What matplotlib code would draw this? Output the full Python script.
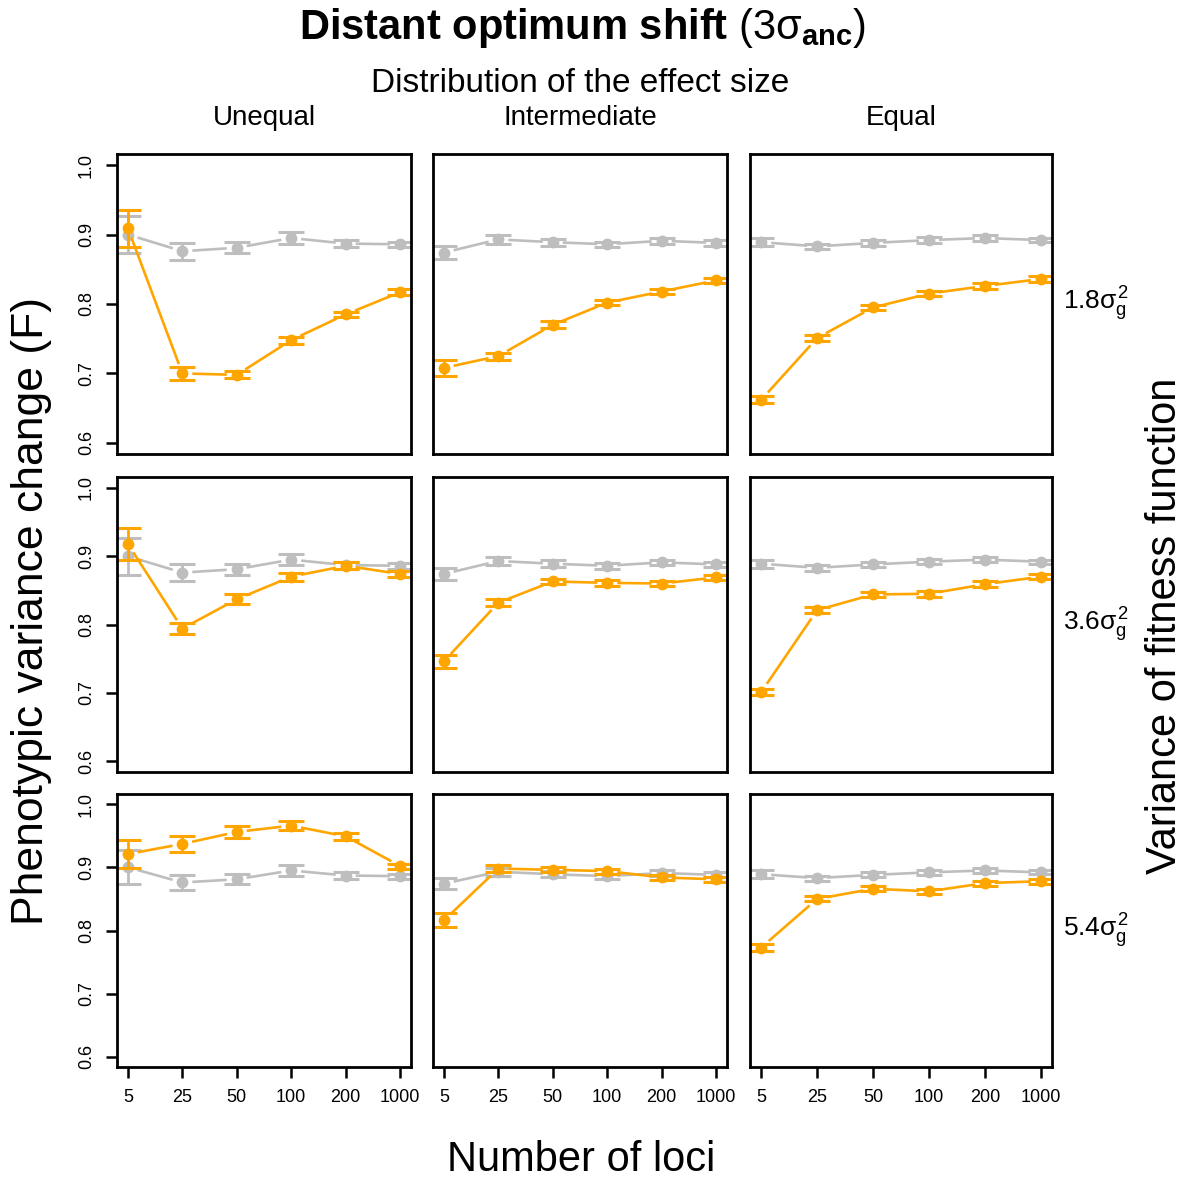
import matplotlib
matplotlib.use("Agg")
import matplotlib.pyplot as plt
import numpy as np

plt.rcParams['font.family'] = ['Liberation Sans', 'DejaVu Sans']
plt.rcParams['mathtext.fontset'] = 'custom'
plt.rcParams['mathtext.rm'] = 'Liberation Sans'
plt.rcParams['mathtext.it'] = 'Liberation Sans'
plt.rcParams['mathtext.bf'] = 'Liberation Sans:bold'

# data
loci = ["5", "25", "50", "100", "200", "1000"]
columns = ["Unequal", "Intermediate", "Equal"]
rows = [r"$1.8\sigma_g^2$", r"$3.6\sigma_g^2$", r"$5.4\sigma_g^2$"]

# grey reference series, one per column (same in every row)
gray_mean = [
    [0.900, 0.876, 0.881, 0.895, 0.887, 0.886],
    [0.874, 0.893, 0.889, 0.886, 0.891, 0.888],
    [0.889, 0.883, 0.888, 0.892, 0.895, 0.892],
]
gray_err = [
    [0.027, 0.012, 0.008, 0.008, 0.005, 0.004],
    [0.009, 0.006, 0.005, 0.004, 0.004, 0.004],
    [0.006, 0.004, 0.004, 0.004, 0.004, 0.003],
]

# orange series, [row][column]
orange_mean = [
    [[0.909, 0.700, 0.698, 0.748, 0.785, 0.817],
     [0.708, 0.725, 0.770, 0.802, 0.818, 0.834],
     [0.662, 0.751, 0.795, 0.815, 0.826, 0.836]],
    [[0.918, 0.794, 0.837, 0.870, 0.886, 0.874],
     [0.746, 0.832, 0.863, 0.861, 0.860, 0.869],
     [0.701, 0.821, 0.844, 0.845, 0.859, 0.870]],
    [[0.921, 0.937, 0.956, 0.966, 0.949, 0.902],
     [0.816, 0.898, 0.896, 0.894, 0.884, 0.881],
     [0.773, 0.850, 0.866, 0.862, 0.875, 0.878]],
]
orange_err = [
    [[0.027, 0.009, 0.005, 0.005, 0.004, 0.004],
     [0.011, 0.005, 0.005, 0.004, 0.004, 0.004],
     [0.005, 0.004, 0.004, 0.004, 0.004, 0.004]],
    [[0.023, 0.008, 0.007, 0.006, 0.005, 0.004],
     [0.010, 0.005, 0.004, 0.004, 0.004, 0.004],
     [0.004, 0.004, 0.004, 0.004, 0.004, 0.004]],
    [[0.022, 0.012, 0.010, 0.007, 0.006, 0.004],
     [0.011, 0.005, 0.004, 0.004, 0.004, 0.004],
     [0.005, 0.004, 0.004, 0.004, 0.004, 0.004]],
]

ORANGE = "#FFA500"
GREY = "#BEBEBE"

W, H = 1189, 1178
fig = plt.figure(figsize=(W / 100, H / 100), dpi=100)

col_left = [117, 433, 750]
col_width = [294, 294, 302]
row_top = [154, 477, 794]
row_height = [300, 295, 273]


def gapped_line(ax, x, y, color, gap=10):
    # R type="b": line segments stop short of the points
    pts = ax.transData.transform(np.column_stack([x, y]))
    inv = ax.transData.inverted()
    for p0, p1 in zip(pts[:-1], pts[1:]):
        d = p1 - p0
        L = np.hypot(d[0], d[1])
        if L <= 2 * gap:
            continue
        u = d / L
        seg = inv.transform([p0 + u * gap, p1 - u * gap])
        ax.plot(seg[:, 0], seg[:, 1], color=color, lw=1.9, solid_capstyle='butt')


def series(ax, y, err, color):
    x = np.arange(1, len(y) + 1)
    gapped_line(ax, x, y, color)
    ax.errorbar(x, y, yerr=err, fmt='none', ecolor=color, elinewidth=2.0,
                capsize=9.5, capthick=2.2)
    ax.plot(x, y, 'o', color=color, ms=8.5, mew=0)


for r in range(3):
    for c in range(3):
        ax = fig.add_axes([col_left[c] / W, 1 - (row_top[r] + row_height[r]) / H,
                           col_width[c] / W, row_height[r] / H])
        ax.set_xlim(0.8, 6.2)
        ax.set_ylim(0.584, 1.016)
        for s in ax.spines.values():
            s.set_linewidth(2.0)
        ax.tick_params(direction='out', length=8, width=1.8, labelsize=13, pad=8)
        ax.set_xticks(np.arange(1, 7))
        ax.set_yticks([0.6, 0.7, 0.8, 0.9, 1.0])
        if r == 2:
            ax.set_xticklabels(loci)
        else:
            ax.tick_params(axis='x', bottom=False, labelbottom=False)
        if c == 0:
            ax.set_yticklabels(["0.6", "0.7", "0.8", "0.9", "1.0"], rotation=90, va='center')
        else:
            ax.tick_params(axis='y', left=False, labelleft=False)
        series(ax, gray_mean[c], gray_err[c], GREY)
        series(ax, orange_mean[r][c], orange_err[r][c], ORANGE)
        if r == 0:
            fig.text((col_left[c] + col_width[c] / 2) / W, 1 - 118 / H, columns[c],
                     ha='center', va='center', fontsize=20)
        if c == 2:
            fig.text(1063 / W, 1 - (row_top[r] + row_height[r] / 2) / H, rows[r],
                     ha='left', va='center', fontsize=19)

fig.text(582 / W, 1 - 28 / H, r"Distant optimum shift $(3\sigma_{\mathbf{anc}})$",
         ha='center', va='center', fontsize=30, fontweight='bold')
fig.text(580 / W, 1 - 83 / H, "Distribution of the effect size",
         ha='center', va='center', fontsize=24)
fig.text(581 / W, 1 - 1160 / H, "Number of loci", ha='center', va='center', fontsize=30)
fig.text(32 / W, 1 - 611 / H, "Phenotypic variance change (F)", ha='center', va='center',
         fontsize=32, rotation=90)
fig.text(1165 / W, 1 - 626 / H, "Variance of fitness function", ha='center', va='center',
         fontsize=30, rotation=90)

fig.savefig("out.png", dpi=100)
